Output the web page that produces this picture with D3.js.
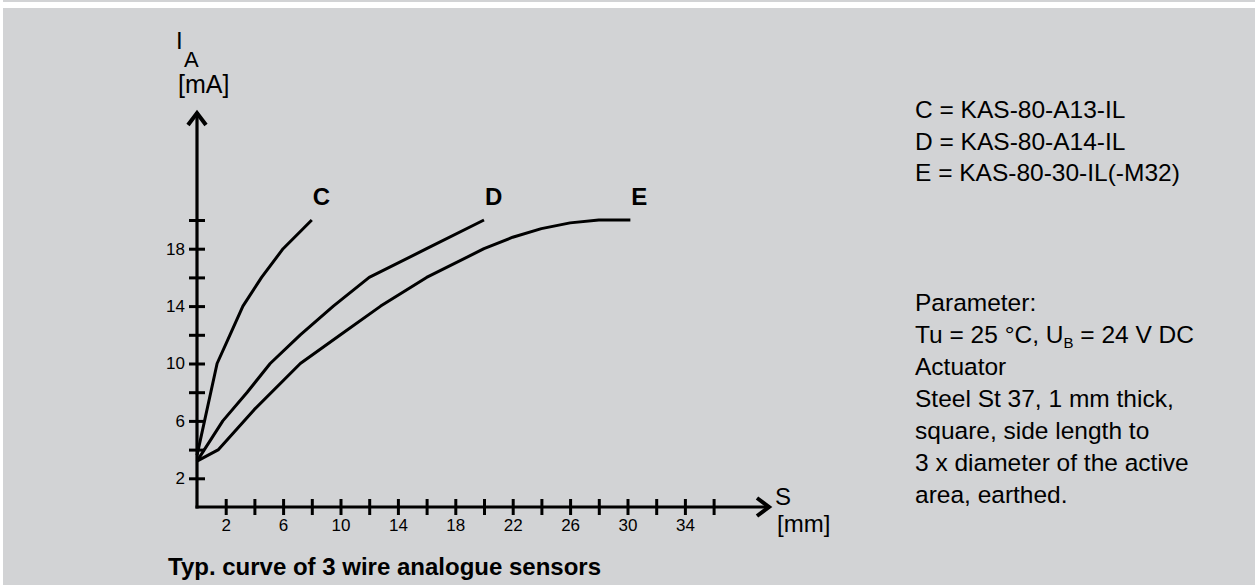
<!DOCTYPE html>
<html>
<head>
<meta charset="utf-8">
<script src="https://cdn.jsdelivr.net/npm/d3@7"></script>
<style>
  body { margin: 0; background: #ffffff; }
  svg text { font-family: "Liberation Sans", Arial, sans-serif; fill: #000; }
</style>
</head>
<body>
<div id="chart"></div>
<script>
/* values: S [mm] against I_A [mA] */
const seriesNames = ["C", "D", "E"];
const curveC = [[0, 3.6], [1.4, 10], [2.3, 12], [3.2, 14], [4.5, 16], [6, 18], [8, 20]];
const curveD = [[0, 3.2], [1.8, 6], [3.5, 8], [5.1, 10], [7.2, 12], [9.5, 14], [12, 16], [16, 18], [20, 20]];
const curveE = [[0, 3.2], [1.5, 4], [4, 6.8], [7.2, 10], [10, 12], [12.8, 14], [16, 16], [20, 18], [22, 18.8], [24, 19.4], [26, 19.8], [28, 20], [30.2, 20]];

const xTicks = [2, 4, 6, 8, 10, 12, 14, 16, 18, 20, 22, 24, 26, 28, 30, 32, 34, 36];
const xLabels = [2, 6, 10, 14, 18, 22, 26, 30, 34];
const yTicks = [2, 4, 6, 8, 10, 12, 14, 16, 18, 20];
const yLabels = [2, 6, 10, 14, 18];

const legendLines = ["C = KAS-80-A13-IL", "D = KAS-80-A14-IL", "E = KAS-80-30-IL(-M32)"];
const paramLines = ["Parameter:", "Tu = 25 °C, U_B = 24 V DC", "Actuator", "Steel St 37, 1 mm thick,",
                    "square, side length to", "3 x diameter of the active", "area, earthed."];
const chartTitle = "Typ. curve of 3 wire analogue sensors";

document.addEventListener("DOMContentLoaded", function(){

       const width = 1255;
       const height = 585;
       const bgGrey = "#d2d3d5";
       const ink = "#000";

       const svg = d3.select("#chart")
              .append("svg")
              .attr("width", width)
              .attr("height", height);

       /*grey panel with thin white strip on top*/
       svg.append("rect").attr("x", 3).attr("y", 0).attr("width", width).attr("height", 2).style("fill", bgGrey);
       svg.append("rect").attr("x", 3).attr("y", 8).attr("width", width).attr("height", height).style("fill", bgGrey);

       const xScale = d3.scaleLinear().domain([0, 36]).range([197, 713.6]);
       const yScale = d3.scaleLinear().domain([0, 20]).range([507, 220]);

       /*axes: ticks cross the line on both sides*/
       const xAxis = d3.axisBottom(xScale)
              .tickValues(xTicks)
              .tickSize(8)
              .tickPadding(4)
              .tickFormat(v => xLabels.includes(v) ? v : "");
       const yAxis = d3.axisLeft(yScale)
              .tickValues(yTicks)
              .tickSize(8)
              .tickPadding(4)
              .tickFormat(v => yLabels.includes(v) ? v : "");

       const gx = svg.append("g")
              .attr("transform", "translate(0," + yScale(0) + ")")
              .call(xAxis);
       gx.select(".domain").remove();
       gx.selectAll("line").attr("y1", -8).attr("stroke", ink).attr("stroke-width", 3);
       gx.selectAll("text").style("font-size", "17px").attr("fill", ink);

       const gy = svg.append("g")
              .attr("transform", "translate(" + xScale(0) + ",0)")
              .call(yAxis);
       gy.select(".domain").remove();
       gy.selectAll("line").attr("x1", 8).attr("stroke", ink).attr("stroke-width", 3);
       gy.selectAll("text").style("font-size", "17px").attr("fill", ink);

       /*axis lines with arrow heads*/
       const x0 = xScale(0), y0 = yScale(0);
       const yTop = 112, xEnd = 770;
       svg.append("path")
              .attr("d", "M" + x0 + "," + (y0 + 1.5) + "V" + yTop)
              .style("fill", "none").style("stroke", ink).style("stroke-width", 3.2);
       svg.append("path")
              .attr("d", "M" + (x0 - 1.5) + "," + y0 + "H" + xEnd)
              .style("fill", "none").style("stroke", ink).style("stroke-width", 3.2);
       svg.append("path")
              .attr("d", "M" + (x0 - 9) + "," + (yTop + 13) + "L" + x0 + "," + (yTop + 1) + "L" + (x0 + 9) + "," + (yTop + 13))
              .style("fill", "none").style("stroke", ink).style("stroke-width", 4);
       svg.append("path")
              .attr("d", "M" + (xEnd - 13) + "," + (y0 - 9) + "L" + (xEnd - 1) + "," + y0 + "L" + (xEnd - 13) + "," + (y0 + 9))
              .style("fill", "none").style("stroke", ink).style("stroke-width", 4);

       /*curves*/
       const line = d3.line()
              .x(d => xScale(d[0]))
              .y(d => yScale(d[1]));
       const curves = [curveC, curveD, curveE];
       svg.selectAll(".curve")
              .data(curves)
              .enter()
              .append("path")
              .attr("class", "curve")
              .attr("d", line)
              .style("fill", "none")
              .style("stroke", ink)
              .style("stroke-width", 3)
              .style("stroke-linejoin", "round");

       /*curve names, placed just above the end of each curve*/
       svg.selectAll(".curveName")
              .data(curves)
              .enter()
              .append("text")
              .attr("class", "curveName")
              .attr("x", d => xScale(d[d.length - 1][0]) + 1)
              .attr("y", d => yScale(d[d.length - 1][1]) - 15)
              .style("font-size", "24px")
              .style("font-weight", "bold")
              .text((d, i) => seriesNames[i]);

       /*axis titles*/
       svg.append("text").attr("x", 176).attr("y", 49).style("font-size", "24px").text("I");
       svg.append("text").attr("x", 184).attr("y", 67).style("font-size", "22px").text("A");
       svg.append("text").attr("x", 178).attr("y", 93).style("font-size", "25px").text("[mA]");
       svg.append("text").attr("x", 775).attr("y", 505).style("font-size", "24px").text("S");
       svg.append("text").attr("x", 777).attr("y", 532).style("font-size", "24px").text("[mm]");

       /*legend*/
       const legendX = 915;
       svg.selectAll(".legend")
              .data(legendLines)
              .enter()
              .append("text")
              .attr("class", "legend")
              .attr("x", legendX)
              .attr("y", (d, i) => 118 + i * 31.5)
              .style("font-size", "24.5px")
              .text(d => d);

       const params = svg.selectAll(".param")
              .data(paramLines)
              .enter()
              .append("text")
              .attr("class", "param")
              .attr("x", legendX)
              .attr("y", (d, i) => 311 + i * 32)
              .style("font-size", "24.5px");
       /*U_B has a subscript B*/
       params.each(function(d){
              const t = d3.select(this);
              if (d.indexOf("U_B") < 0) { t.text(d); return; }
              const parts = d.split("U_B");
              t.append("tspan").text(parts[0] + "U");
              t.append("tspan").attr("dy", 5).style("font-size", "15px").text("B");
              t.append("tspan").attr("dy", -5).text(parts[1]);
       });

       /*title*/
       svg.append("text")
              .attr("x", 168)
              .attr("y", 575)
              .style("font-size", "24px")
              .style("font-weight", "bold")
              .text(chartTitle);
});
</script>
</body>
</html>
